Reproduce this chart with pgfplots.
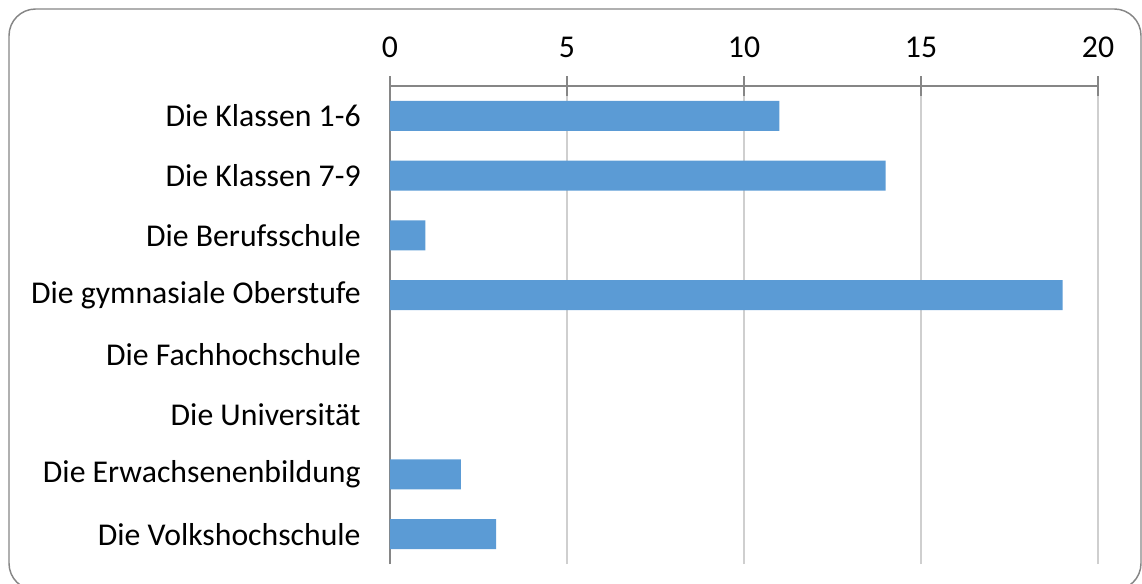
\documentclass[border=0pt]{standalone}
\usepackage{pgfplots}
\pgfplotsset{compat=1.18}
\usepackage{fontspec}
\setmainfont{Carlito}
\definecolor{barblue}{HTML}{5B9BD5}
\definecolor{axgray}{HTML}{868686}
\definecolor{gridgray}{HTML}{CFCFCF}
\begin{document}
\begin{tikzpicture}
\useasboundingbox (0,0) rectangle (856.5pt,-438pt);
\clip (0,0) rectangle (856.5pt,-438pt);
\draw[axgray, line width=1.1pt, rounded corners=20pt] (6.75pt,-6.75pt) rectangle (855.75pt,-442.5pt);
\begin{axis}[
 at={(292.5pt,-423pt)}, anchor=south west,
 scale only axis, width=531pt, height=358.5pt,
 xmin=0, xmax=20, ymin=0.5, ymax=8.5,
 xbar, bar width=22.5pt,
 axis x line*=top, axis y line*=left,
 axis line style={axgray, line width=1.1pt},
 xtick={0,5,...,20}, ytick={1,...,8},
 yticklabels={Die Volkshochschule, Die Erwachsenenbildung, Die Universität, Die Fachhochschule, Die gymnasiale Oberstufe, Die Berufsschule, Die Klassen 7-9, Die Klassen 1-6},
 xmajorgrids, major grid style={gridgray, line width=1.5pt},
 tick align=center, major tick length=15pt,
 xtick style={axgray, line width=1.1pt},
 ytick style={draw=none},
 ticklabel style={font=\fontsize{23.8}{28}\selectfont},
 xticklabel style={yshift=10pt},
 yticklabel style={xshift=-11pt},
 /pgf/number format/assume math mode=true,
]
\addplot[fill=barblue, draw=none] coordinates {(3,1) (2,2) (0,3) (0,4) (19,5) (1,6) (14,7) (11,8)};
\end{axis}
\end{tikzpicture}
\end{document}
